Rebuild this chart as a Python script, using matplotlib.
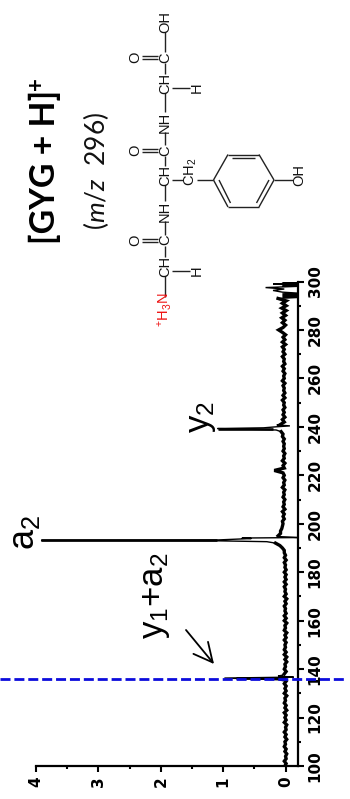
import numpy as np
import matplotlib
matplotlib.use("Agg")
import matplotlib.pyplot as plt

plt.rcParams['font.family'] = ['Liberation Sans', 'DejaVu Sans']
plt.rcParams['mathtext.fontset'] = 'custom'
plt.rcParams['mathtext.rm'] = 'Lato'
plt.rcParams['mathtext.it'] = 'Lato:italic'
plt.rcParams['mathtext.default'] = 'regular'

# ---- spectrum values (m/z, relative intensity) ----
mz_a = list(range(100, 136))
int_a = [.01,-.01,.02,-.01,.00,-.02,.01,-.01,.02,0,.01,-.02,.01,-.01,.02,-.01,0,-.02,
         .02,-.01,.01,-.01,.02,-.02,.01,-.01,.02,0,.01,-.02,.02,-.01,.01,-.01,.02,-.01]
mz_y1a2 = [135.6,136.0,136.3,136.7,137.1,137.5]
int_y1a2 = [.12,.6,.98,-.13,.12,.05]
mz_b = list(range(138, 193))
int_b = [.02,-.01,.02,0,.01,-.02,.01,-.02,.02,-.01,.02,0,.01,-.01,.02,-.01,.01,-.02,.02,0,
         .01,-.02,.02,-.01,.02,-.01,.01,0,.02,-.01,.01,-.02,.02,-.01,.01,0,.02,-.01,.02,-.01,
         .01,-.01,.02,-.01,.01,0,.02,-.01,.02,0,.02,.02,.05,.09,.16]
mz_a2 = [192.6,192.95,193.1,193.3,193.9,194.1,194.3,194.7]
int_a2 = [.3,1.1,3.92,1.1,.55,.7,-.2,.1]
mz_c = list(range(195, 239))
int_c = [.12,.08,.08,.06,.05,.04,.05,.02,.04,.02,.05,.01,.04,.02,.03,.01,.04,.02,.03,.01,.05,.02,
         .03,.01,.04,.02,.04,.18,.02,.04,.01,.05,.02,.03,.01,.04,.02,.03,.02,.04,.02,.05,.04,.07]
mz_y2 = [238.7,239.1,239.3,239.6,240.0,240.4,240.8]
int_y2 = [.15,.7,1.09,.35,.16,-.07,.14]
mz_d = list(range(241, 294))
int_d = [.08,.02,.05,.01,.04,.02,.04,.01,.03,.02,.05,.01,.04,.01,.03,.02,.04,.01,.05,.02,.03,.01,.04,.02,
         .05,.01,.03,.02,.05,.01,.04,.02,.05,.00,.05,.01,.04,.00,.05,.11,.04,.00,.05,.01,.06,.00,
         .05,-.01,.06,-.01,.05,-.01,.12]
mz_parent = [293.4,293.7,294.0,294.3,294.6,294.9,295.2,295.6,296.3,296.9,297.5,297.8,298.0,298.3,298.6,298.9,299.1,299.4,299.7,300.0]
int_parent = [-.2,.05,-.2,.05,-.2,.05,-.2,.05,.2,.02,.32,.02,-.2,.05,-.2,.2,-.2,.05,-.2,.05]

# thick upper portions of the three fragment peaks: m/z, inner and outer intensity
stem_mz = [136.3, 193.1, 239.3]
stem_low = [0.0, 1.1, 0.2]
stem_high = [0.79, 3.92, 1.09]

mz = np.concatenate([mz_a, mz_y1a2, mz_b, mz_a2, mz_c, mz_y2, mz_d, mz_parent])
intensity = np.concatenate([int_a, int_y1a2, int_b, int_a2, int_c, int_y2, int_d, int_parent])

mz_ticks = [100,120,140,160,180,200,220,240,260,280,300]
int_ticks = [0,1,2,3,4]
precursor_line_mz = 135.8

W, H = 350, 799
fig = plt.figure(figsize=(W/100, H/100), dpi=100)
fig.patch.set_facecolor('white')

ax = fig.add_axes([36/W, 1-766/H, (298-36)/W, (766-281.5)/H])
ax.plot(intensity, mz, color='black', lw=1.0, solid_joinstyle='miter')
for seg_mz, seg_int in [(mz_a, int_a), (mz_b, int_b), (mz_c, int_c), (mz_d, int_d)]:
    ax.plot(seg_int, seg_mz, color='black', lw=2.4, solid_joinstyle='miter')
ax.hlines(stem_mz, stem_low, stem_high, color='black', lw=1.9)
ax.set_xlim(4, -0.2)
ax.set_ylim(100, 300)
ax.patch.set_alpha(0)
ax.spines['top'].set_visible(False)
ax.spines['left'].set_visible(False)
ax.spines['bottom'].set_linewidth(1.6)
ax.spines['right'].set_linewidth(1.6)
ax.yaxis.tick_right()
ax.set_xticks(int_ticks)
ax.set_xticks([0.5,1.5,2.5,3.5], minor=True)
ax.set_yticks(mz_ticks)
ax.set_yticks(list(range(110, 300, 20)), minor=True)
ax.tick_params(which='major', length=4.4, width=1.5)
ax.tick_params(which='minor', length=2.4, width=1.5)
ax.tick_params(axis='x', which='major', pad=3)
ax.tick_params(axis='y', which='major', pad=2.5)
ylabs = ax.get_yticklabels()
for lab in ax.get_xticklabels() + ylabs:
    lab.set_rotation(90)
    lab.set_fontfamily('DejaVu Sans')
    lab.set_fontweight('bold')
    lab.set_fontsize(11)
    lab.set_va('center' if lab in ylabs else 'top')
    lab.set_ha('left' if lab in ylabs else 'center')

# overlay in pixel coordinates for annotations and the structure diagram
ov = fig.add_axes([0, 0, 1, 1])
ov.set_xlim(0, W)
ov.set_ylim(H, 0)
ov.axis('off')
ov.patch.set_alpha(0)

bl_y = ov.transData.inverted().transform(ax.transData.transform((0, precursor_line_mz)))[1]
ov.plot([0, 346], [bl_y, bl_y], color='#0c0cdc', lw=2.0, dashes=(3.6, 1.4))

def T(x, y, s, size=10.5, color='#111111', **kw):
    ov.text(x, y, s, rotation=90, ha='center', va='center', fontsize=size, color=color, **kw)

def B(x0, y0, x1, y1, c='#222222', lw=1.0):
    ov.plot([x0, x1], [y0, y1], color=c, lw=lw, solid_capstyle='butt')

# labels
ov.text(45, 244, '[GYG + H]', rotation=90, ha='center', va='bottom', fontsize=24.3,
        fontfamily='Lato', fontweight='bold', color='black')
ov.text(37, 84, '+', rotation=90, ha='center', va='center', fontsize=16,
        fontfamily='Lato', fontweight='bold', color='black')
ov.text(96, 230, r'($\mathit{m/z}$  296)', rotation=90, ha='center', va='bottom', fontsize=19,
        fontfamily='Lato', color='#111111')
ov.text(24, 550, r'$a_2$', rotation=90, ha='center', va='bottom', fontsize=26, color='black')
ov.text(156, 639, r'$y_1{+}a_2$', rotation=90, ha='center', va='bottom', fontsize=25, color='black')
ov.text(202, 433, r'$y_2$', rotation=90, ha='center', va='bottom', fontsize=25, color='black')
ov.annotate('', xy=(214, 664), xytext=(186, 630),
            arrowprops=dict(arrowstyle='->,head_length=0.68,head_width=0.34', lw=1.3, color='black',
                            shrinkA=0, shrinkB=0, mutation_scale=20))

# structure
X = 165
T(X, 22, 'OH')
B(X, 32, X, 52)
T(X, 58, 'C')
for cy in [57.5, 150.5, 240]:
    T(135, cy, 'O')
    B(142, cy-1.5, 158, cy-1.5)
    B(142, cy+1.5, 158, cy+1.5)
B(X, 63, X, 74)
T(X, 83, 'CH')
B(172, 87.5, 190, 87.5)
T(196.5, 87.5, 'H')
B(X, 93, X, 112)
T(X, 122, 'NH')
B(X, 132, X, 145)
T(X, 150.5, 'C')
B(X, 156, X, 166)
T(X, 175.5, 'CH')
B(172, 180, 183, 180)
T(191, 172, r'$CH_2$')
B(197, 180, 213, 180)
B(X, 185, X, 201)
T(X, 211, 'NH')
B(X, 221, X, 235)
T(X, 240, 'C')
B(X, 246, X, 257)
T(X, 266, 'CH')
B(172, 270.5, 190, 270.5)
T(196.5, 270.5, 'H')
B(X, 276, X, 297)
ov.text(X, 327, r'$^{+}H_3N$', rotation=90, ha='center', va='bottom', fontsize=10.5, color='#ee1111')

# ring
ring = [(213.5,180),(228,154.5),(259,154.5),(274,180),(259,207),(228,207),(213.5,180)]
for (a, b), (c, d) in zip(ring[:-1], ring[1:]):
    B(a, b, c, d)
B(232, 158, 255, 158)
B(219, 180, 230.5, 203)
B(269, 180, 256.5, 203)
B(274, 180, 293, 180)
T(299.5, 175, 'OH')

fig.savefig('out.png', dpi=100, facecolor='white')
